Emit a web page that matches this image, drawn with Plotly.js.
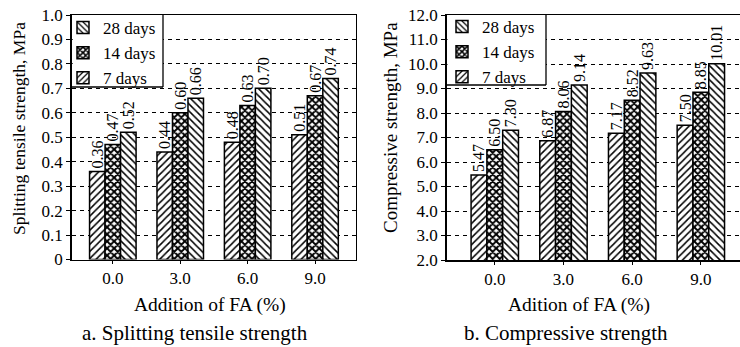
<!DOCTYPE html>
<html>
<head>
<meta charset="utf-8">
<script src="https://cdn.plot.ly/plotly-3.0.1.min.js"></script>
<style>html,body{margin:0;padding:0;background:#fff;}#chart{width:740px;height:347px;}</style>
</head>
<body>
<div id="chart"></div>
<script>
// Categories (addition of FA, %)
const categories = ['0.0', '3.0', '6.0', '9.0'];
// Series names
const seriesNames = ['7 days', '14 days', '28 days'];
// a. Splitting tensile strength (MPa)
const tensile7 = [0.36, 0.44, 0.48, 0.51];
const tensile14 = [0.47, 0.60, 0.63, 0.67];
const tensile28 = [0.52, 0.66, 0.70, 0.74];
// b. Compressive strength (MPa)
const comp7 = [5.47, 6.87, 7.17, 7.50];
const comp14 = [6.50, 8.06, 8.52, 8.85];
const comp28 = [7.30, 9.14, 9.63, 10.01];
// Tick labels
const tensileTickVals = [0, 0.1, 0.2, 0.3, 0.4, 0.5, 0.6, 0.7, 0.8, 0.9, 1.0];
const tensileTickText = ['0', '0.1', '0.2', '0.3', '0.4', '0.5', '0.6', '0.7', '0.8', '0.9', '1.0'];
const compTickVals = [2, 3, 4, 5, 6, 7, 8, 9, 10, 11, 12];

const FONT = '"Liberation Serif", "Times New Roman", serif';
const shapes = ['/', 'x', '\\'];
const solid = [0.3, 0.62, 0.3];

function mk(name, y, i, xa, ya, leg) {
  return {
    type: 'bar', name: name, x: categories, y: y, xaxis: xa, yaxis: ya, legend: leg,
    marker: {
      color: '#ffffff',
      line: {color: '#000', width: 1.5},
      pattern: {shape: shapes[i], size: 5, solidity: solid[i], fgcolor: '#000', bgcolor: '#fff', fgopacity: 1}
    },
    text: y.map(v => v.toFixed(2)),
    textposition: 'outside', textangle: -90, constraintext: 'none', cliponaxis: false,
    textfont: {family: FONT, size: 16, color: '#000'},
    hoverinfo: 'skip'
  };
}

const data = [
  mk(seriesNames[0], tensile7, 0, 'x', 'y', 'legend'),
  mk(seriesNames[1], tensile14, 1, 'x', 'y', 'legend'),
  mk(seriesNames[2], tensile28, 2, 'x', 'y', 'legend'),
  mk(seriesNames[0], comp7, 0, 'x2', 'y2', 'legend2'),
  mk(seriesNames[1], comp14, 1, 'x2', 'y2', 'legend2'),
  mk(seriesNames[2], comp28, 2, 'x2', 'y2', 'legend2')
];

const axBase = {
  showline: true, linecolor: '#000', linewidth: 1.5, mirror: true,
  ticks: 'outside', ticklen: 4, tickcolor: '#000', tickwidth: 1,
  tickfont: {family: FONT, size: 17, color: '#000'}, automargin: false
};
const yBase = Object.assign({}, axBase, {
  showgrid: true, gridcolor: '#000', gridwidth: 1, griddash: '4px,4px', zeroline: false
});
const xBase = Object.assign({}, axBase, {type: 'category', showgrid: false, ticklen: 3});

const legBase = {
  bgcolor: 'rgba(0,0,0,0)', borderwidth: 0, traceorder: 'reversed',
  font: {family: FONT, size: 17, color: '#000'}, xanchor: 'left', yanchor: 'top',
  tracegroupgap: 0, itemwidth: 30
};

const H = 347, W = 740;
const px = v => v / W, py = v => 1 - v / H;
const boxLine = {color: '#000', width: 1.3};
const layout = {
  width: W, height: H,
  margin: {l: 0, r: 0, t: 0, b: 0},
  paper_bgcolor: '#fff', plot_bgcolor: '#fff',
  bargap: 0.31, bargroupgap: 0, barmode: 'group',
  font: {family: FONT, color: '#000'},
  xaxis: Object.assign({}, xBase, {domain: [px(71.7), px(355.5)], range: [-0.61, 3.6], anchor: 'y'}),
  yaxis: Object.assign({}, yBase, {domain: [py(259.5), py(15)], range: [0, 1], tickvals: tensileTickVals, ticktext: tensileTickText, anchor: 'x'}),
  xaxis2: Object.assign({}, xBase, {domain: [px(446.7), 1], range: [-0.70, 3.57], anchor: 'y2'}),
  yaxis2: Object.assign({}, yBase, {domain: [py(260), py(15)], range: [2, 12], tickvals: compTickVals, tickformat: '.1f', anchor: 'x2', mirror: false}),
  legend: Object.assign({}, legBase, {x: px(63), y: py(10)}),
  legend2: Object.assign({}, legBase, {x: px(442), y: py(9)}),
  shapes: [
    {type: 'rect', xref: 'paper', yref: 'paper', x0: px(72.7), x1: px(163), y0: py(87), y1: py(15), fillcolor: '#fff', line: {width: 0}, layer: 'above'},
    {type: 'line', xref: 'paper', yref: 'paper', x0: px(163), x1: px(163), y0: py(87), y1: py(15), line: boxLine, layer: 'above'},
    {type: 'line', xref: 'paper', yref: 'paper', x0: px(72), x1: px(163), y0: py(87), y1: py(87), line: boxLine, layer: 'above'},
    {type: 'rect', xref: 'paper', yref: 'paper', x0: px(447.5), x1: px(546), y0: py(85), y1: py(15), fillcolor: '#fff', line: {width: 0}, layer: 'above'},
    {type: 'line', xref: 'paper', yref: 'paper', x0: px(546), x1: px(546), y0: py(85), y1: py(15), line: boxLine, layer: 'above'},
    {type: 'line', xref: 'paper', yref: 'paper', x0: px(446.7), x1: px(546), y0: py(85), y1: py(85), line: boxLine, layer: 'above'}
  ],
  annotations: [
    {text: 'Splitting tensile strength, MPa', xref: 'paper', yref: 'paper', x: px(19), y: py(129), textangle: -90, showarrow: false, font: {family: FONT, size: 17.5, color: '#000'}, xanchor: 'center', yanchor: 'middle'},
    {text: 'Compressive strength, MPa', xref: 'paper', yref: 'paper', x: px(390), y: py(127), textangle: -90, showarrow: false, font: {family: FONT, size: 19, color: '#000'}, xanchor: 'center', yanchor: 'middle'},
    {text: 'Addition of FA (%)', xref: 'paper', yref: 'paper', x: px(210), y: py(305), showarrow: false, font: {family: FONT, size: 19.5, color: '#000'}, xanchor: 'center', yanchor: 'middle'},
    {text: 'Adition of FA (%)', xref: 'paper', yref: 'paper', x: px(579), y: py(305), showarrow: false, font: {family: FONT, size: 19.5, color: '#000'}, xanchor: 'center', yanchor: 'middle'},
    {text: 'a. Splitting tensile strength', xref: 'paper', yref: 'paper', x: px(195), y: py(333), showarrow: false, font: {family: FONT, size: 21, color: '#000'}, xanchor: 'center', yanchor: 'middle'},
    {text: 'b. Compressive strength', xref: 'paper', yref: 'paper', x: px(566), y: py(333), showarrow: false, font: {family: FONT, size: 21, color: '#000'}, xanchor: 'center', yanchor: 'middle'}
  ]
};

Plotly.newPlot('chart', data, layout, {displayModeBar: false, staticPlot: true});
</script>
</body>
</html>
